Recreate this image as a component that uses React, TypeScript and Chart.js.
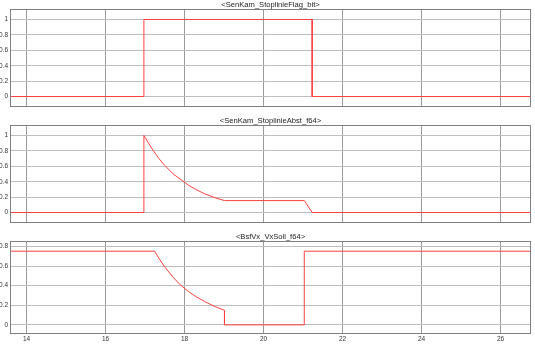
import React, { useEffect, useRef } from "react";
import { Chart, registerables } from "chart.js";

Chart.register(...registerables);

// ---- data ----
const xTicks = [14, 16, 18, 20, 22, 24, 26];
const yTicksUnit = [0, 0.2, 0.4, 0.6, 0.8, 1];
const yTicksVx = [0, 0.2, 0.4, 0.6, 0.8];

const titles = ["<SenKam_StoplinieFlag_bit>", "<SenKam_StoplinieAbst_f64>", "<BsfVx_VxSoll_f64>"];

const flagX = [13.5, 16.97, 16.97, 21.23, 21.23, 27];
const flagY = [0, 0, 1, 1, 0, 0];

const abstX = [13.5, 16.97, 16.97, 17.1, 17.2, 17.35, 17.5, 17.7, 17.9, 18.1, 18.3, 18.5, 18.75, 19.01, 21.03, 21.23, 27];
const abstY = [0, 0, 1.0, 0.89, 0.81, 0.7, 0.61, 0.505, 0.43, 0.355, 0.295, 0.245, 0.195, 0.155, 0.155, 0, 0];

const vxX = [13.5, 17.24, 17.35, 17.5, 17.7, 17.9, 18.1, 18.3, 18.5, 18.75, 19.01, 19.01, 21.03, 21.03, 27];
const vxY = [0.752, 0.752, 0.68, 0.59, 0.49, 0.405, 0.34, 0.285, 0.24, 0.19, 0.148, 0, 0, 0.752, 0.752];

const xMin = 13.58;
const xMax = 26.77;

const framePlugin = {
  id: "frame",
  afterDraw(chart: any, _args: any, opts: any) {
    const { ctx, chartArea: a } = chart;
    ctx.save();
    ctx.strokeStyle = "#808080";
    ctx.lineWidth = 1;
    const l = Math.round(a.left) + 0.5;
    const r = Math.round(a.right) - 0.5;
    const t = Math.round(a.top) + 0.5;
    const b = Math.round(a.bottom) - 0.5;
    ctx.strokeRect(l, t, r - l, b - t);
    ctx.fillStyle = "#222";
    ctx.font = "7.6px 'Liberation Sans', Arial, sans-serif";
    ctx.textAlign = "center";
    ctx.textBaseline = "middle";
    ctx.fillText(opts.text, (a.left + a.right) / 2, a.top - 4.5);
    ctx.restore();
  },
};

type Panel = {
  title: string;
  xs: number[];
  ys: number[];
  yMin: number;
  yMax: number;
  yTicks: number[];
  top: number;
  bottom: number;
  xAxisH: number;
  showX: boolean;
};

const panels: Panel[] = [
  { title: titles[0], xs: flagX, ys: flagY, yMin: -0.136, yMax: 1.136, yTicks: yTicksUnit, top: 9, bottom: 238, xAxisH: 0, showX: false },
  { title: titles[1], xs: abstX, ys: abstY, yMin: -0.136, yMax: 1.136, yTicks: yTicksUnit, top: 125, bottom: 122, xAxisH: 0, showX: false },
  { title: titles[2], xs: vxX, ys: vxY, yMin: -0.093, yMax: 0.856, yTicks: yTicksVx, top: 241, bottom: 0, xAxisH: 11, showX: true },
];

function PanelChart({ p }: { p: Panel }) {
  const ref = useRef<HTMLCanvasElement>(null);
  useEffect(() => {
    if (!ref.current) return;
    const tickFont = { family: "'Liberation Sans', Arial, sans-serif", size: 6.5 };
    const chart = new Chart(ref.current, {
      type: "line",
      data: {
        datasets: [
          {
            data: p.xs.map((x, i) => ({ x, y: p.ys[i] })),
            borderColor: "#ff4040",
            borderWidth: 1,
            pointRadius: 0,
            tension: 0,
            fill: false,
          },
        ],
      },
      options: {
        responsive: false,
        maintainAspectRatio: false,
        animation: false,
        events: [],
        layout: { padding: { left: 0, right: 4, top: p.top, bottom: p.bottom } },
        plugins: {
          legend: { display: false },
          tooltip: { enabled: false },
          frame: { text: p.title },
        } as any,
        scales: {
          x: {
            type: "linear",
            min: xMin,
            max: xMax,
            afterBuildTicks: (s: any) => {
              s.ticks = xTicks.map((v) => ({ value: v }));
            },
            afterFit: (s: any) => {
              s.height = p.xAxisH;
            },
            border: { display: false },
            grid: { color: "#9a9a9a", lineWidth: 1, drawTicks: false },
            ticks: {
              display: p.showX,
              padding: 1,
              color: "#333",
              font: tickFont,
              maxRotation: 0,
              autoSkip: false,
              callback: (v: any) => String(v),
            },
          },
          y: {
            type: "linear",
            min: p.yMin,
            max: p.yMax,
            afterBuildTicks: (s: any) => {
              s.ticks = p.yTicks.map((v) => ({ value: v }));
            },
            afterFit: (s: any) => {
              s.width = 10;
            },
            border: { display: false },
            grid: { color: "#bdbdbd", lineWidth: 1, drawTicks: false },
            ticks: {
              padding: 2,
              color: "#333",
              font: tickFont,
              autoSkip: false,
              callback: (v: any) => String(Number(Number(v).toFixed(2))),
            },
          },
        },
      },
      plugins: [framePlugin],
    } as any);
    return () => chart.destroy();
  }, [p]);
  return (
    <canvas
      ref={ref}
      width={535}
      height={345}
      style={{ position: "absolute", left: 0, top: 0, width: 535, height: 345 }}
    />
  );
}

export default function App() {
  return (
    <div style={{ position: "absolute", left: 0, top: 0, width: 535, height: 345, background: "#fff" }}>
      {panels.map((p, i) => (
        <PanelChart key={i} p={p} />
      ))}
    </div>
  );
}
